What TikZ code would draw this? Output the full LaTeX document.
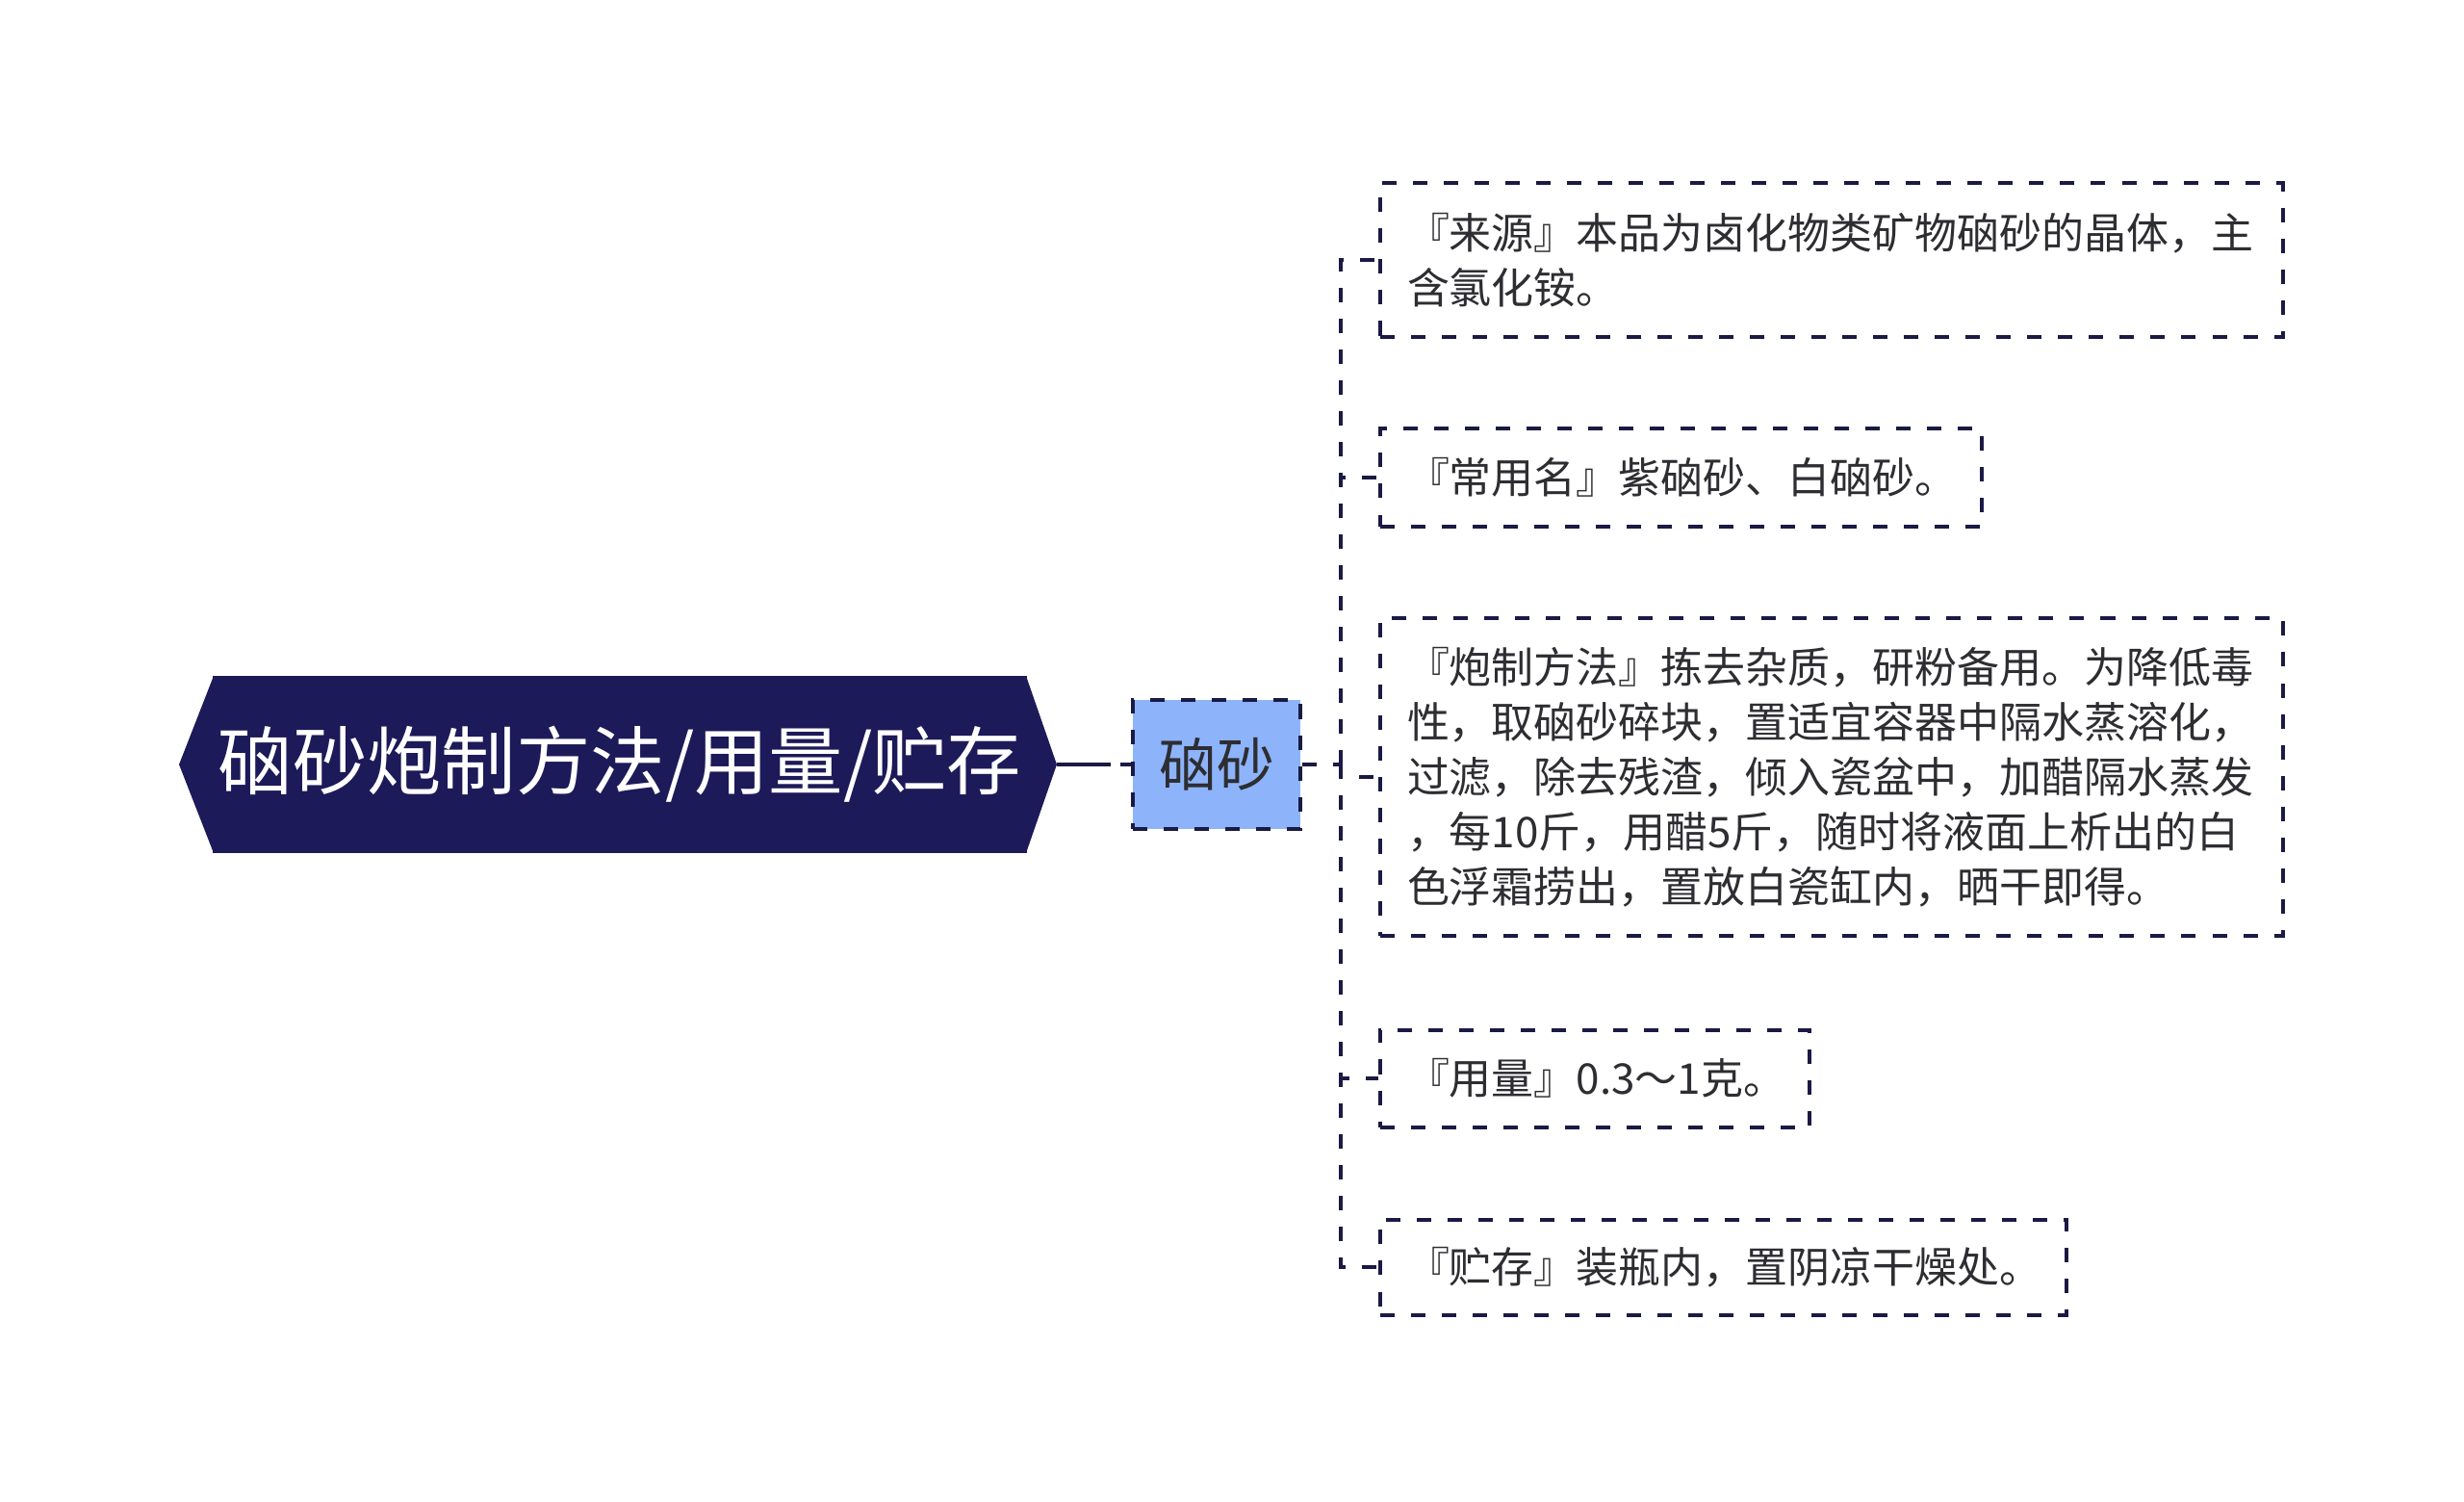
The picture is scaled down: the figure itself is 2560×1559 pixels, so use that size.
\documentclass[tikz,border=0pt]{standalone}
\usepackage{fontspec}
\setmainfont{Noto Sans CJK SC}
\definecolor{rootnavy}{RGB}{28,26,88}
\definecolor{subblue}{RGB}{141,180,250}
\definecolor{linenavy}{RGB}{26,26,68}
\definecolor{leaftext}{RGB}{45,45,50}

\begin{document}
\begin{tikzpicture}[x=0.01cm, y=-0.01cm,
        link/.style={draw=linenavy, line width=0.04cm, dash pattern=on 0.15cm off 0.17cm},
        leaf/.style={link, fill=white, anchor=west, align=left, inner xsep=0.28cm,
            text=leaftext, font=\fontsize{12.5pt}{16.2pt}\selectfont}]
            \pgfmathsetmacro{\trunkCol}{1393}
            \pgfmathsetmacro{\leafCol}{1432}

            \useasboundingbox (0,0) rectangle (2560,1559);

            % root with pointed ends
            \node[fill=rootnavy, text=white, minimum width=8.46cm, minimum height=1.83cm, inner sep=0,
                font=\fontsize{22pt}{26pt}\selectfont] (root) at (644,794) {硇砂炮制方法/用量/贮存};
            \fill[rootnavy] ([xshift=0.02cm]root.north west) -- ([xshift=-0.34cm]root.west) -- ([xshift=0.02cm]root.south west) -- cycle;
            \fill[rootnavy] ([xshift=-0.02cm]root.north east) -- ([xshift=0.30cm]root.east) -- ([xshift=-0.02cm]root.south east) -- cycle;
            \coordinate (rootTip) at ([xshift=0.30cm]root.east);

            % middle node
            \node[link, fill=subblue, text=leaftext, minimum width=1.74cm, minimum height=1.33cm,
                font=\fontsize{17pt}{20pt}\selectfont] (sub) at (1264,794) {硇砂};
            \draw[draw=linenavy, line width=0.04cm, dash pattern=on 0.56cm off 0.1cm on 0.14cm off 1cm] (rootTip) -- (sub.west);

            % leaves
            \node[leaf, text width=8.81cm, minimum height=1.59cm] (c1) at (\leafCol,270)
                {『来源』本品为卤化物类矿物硇砂的晶体，主\\含氯化铵。};
            \node[leaf, text width=5.69cm, minimum height=1.01cm] (c2) at (\leafCol,496)
                {『常用名』紫硇砂、白硇砂。};
            \node[leaf, text width=8.81cm, minimum height=3.29cm] (c3) at (\leafCol,807)
                {『炮制方法』拣去杂质，研粉备用。为降低毒\\性，取硇砂碎块，置适宜容器中隔水蒸溶化，\\过滤，除去残渣，倾入瓷盆中，加醋隔水蒸发\\，每10斤，用醋5斤，随时将液面上析出的白\\色浮霜捞出，置放白瓷缸内，晒干即得。};
            \node[leaf, text width=3.90cm, minimum height=1.01cm] (c4) at (\leafCol,1120)
                {『用量』0.3～1克。};
            \node[leaf, text width=6.57cm, minimum height=0.99cm] (c5) at (\leafCol,1316)
                {『贮存』装瓶内，置阴凉干燥处。};

            % connect middle node to all leaves
            \coordinate (fork) at (\trunkCol,794);
            \draw[link] (sub.east) -- (fork);
            \foreach \i in {1, 2, 3, 4, 5}
            \draw[link] (fork) |- (c\i.west);

\end{tikzpicture}
\end{document}
